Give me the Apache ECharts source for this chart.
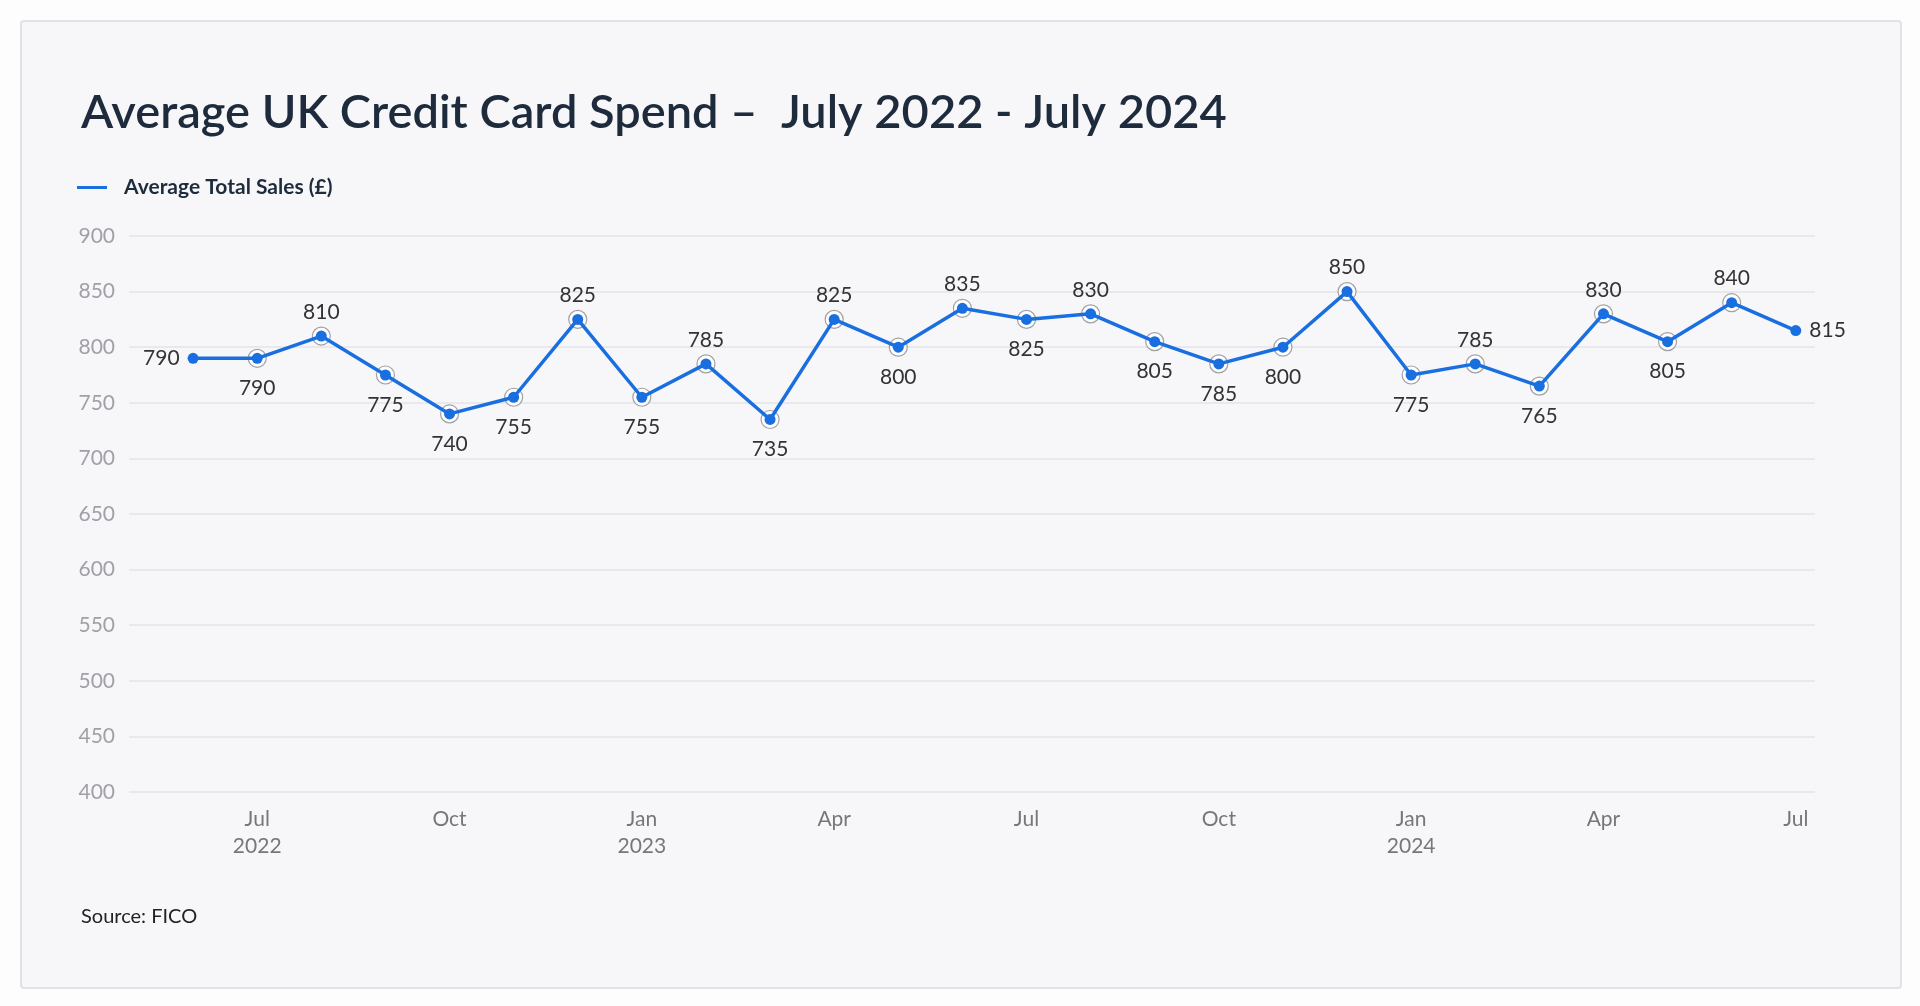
<!DOCTYPE html>
<html>
<head>
<meta charset="utf-8">
<script src="https://cdn.jsdelivr.net/npm/echarts@6/dist/echarts.min.js"></script>
<style>
html, body { margin: 0; padding: 0; background: #fdfdfd; }
#card { position: absolute; left: 20px; top: 20px; width: 1878px; height: 965px;
  border: 2px solid #e2e2e6; border-radius: 4px; background: #f7f7f9; }
#main { position: absolute; left: 0; top: 0; width: 1920px; height: 1006px; }
</style>
</head>
<body>
<div id="card"></div>
<div id="main"></div>
<script>
// months Jun 2022 .. Jul 2024
var months = ['Jun 2022','Jul 2022','Aug 2022','Sep 2022','Oct 2022','Nov 2022','Dec 2022',
  'Jan 2023','Feb 2023','Mar 2023','Apr 2023','May 2023','Jun 2023','Jul 2023','Aug 2023',
  'Sep 2023','Oct 2023','Nov 2023','Dec 2023','Jan 2024','Feb 2024','Mar 2024','Apr 2024',
  'May 2024','Jun 2024','Jul 2024'];
var sales = [790, 790, 810, 775, 740, 755, 825, 755, 785, 735, 825, 800, 835, 825, 830,
  805, 785, 800, 850, 775, 785, 765, 830, 805, 840, 815];
var tickLabels = { 1: 'Jul\n2022', 4: 'Oct', 7: 'Jan\n2023', 10: 'Apr', 13: 'Jul', 16: 'Oct',
  19: 'Jan\n2024', 22: 'Apr', 25: 'Jul' };
var yTicks = [400, 450, 500, 550, 600, 650, 700, 750, 800, 850, 900];

var labelPos = ['left','bottom','top','bottom','bottom','bottom','top','bottom','top','bottom',
  'top','bottom','top','bottom','top','bottom','bottom','bottom','top','bottom','top','bottom',
  'top','bottom','top','right'];

var font = 'Lato, "Noto Sans", sans-serif';
var blue = '#1a6fe0';

var lineData = sales.map(function (v, i) {
    return {
        value: [i, v],
        label: { position: labelPos[i], distance: labelPos[i] === 'bottom' ? 14 : 8 }
    };
});
var ringData = sales.map(function (v, i) { return [i, v]; }).slice(1, sales.length - 1);

var option = {
    animation: false,
    textStyle: { fontFamily: font },
    title: [{
        text: 'Average UK Credit Card Spend –  July 2022 - July 2024',
        left: 76, top: 84,
        textStyle: { fontSize: 47, fontWeight: 600, color: '#1e2b3c', fontFamily: font }
    }, {
        text: 'Source: FICO',
        left: 76, top: 902,
        textStyle: { fontSize: 20, fontWeight: 'normal', color: '#222', fontFamily: font }
    }],
    legend: {
        left: 72, top: 172,
        icon: 'rect', itemWidth: 30, itemHeight: 3, itemGap: 10,
        data: ['Average Total Sales (£)'],
        textStyle: { fontSize: 21, fontWeight: 'bold', color: '#1e2b3c', padding: [0, 0, 0, 12] }
    },
    grid: { left: 129, right: 105, top: 236, bottom: 214 },
    xAxis: {
        type: 'value', min: -1, max: 25.3, interval: 1,
        splitLine: { show: false },
        axisLine: { show: false }, axisTick: { show: false },
        axisLabel: {
            showMaxLabel: false, showMinLabel: false, margin: 14,
            color: '#777', fontSize: 21, lineHeight: 27,
            formatter: function (v) { return tickLabels[v] || ''; }
        }
    },
    yAxis: {
        type: 'value', min: yTicks[0], max: yTicks[yTicks.length - 1], interval: 50,
        axisLine: { show: false }, axisTick: { show: false },
        axisLabel: { color: '#a0a0a8', fontSize: 21, margin: 14 },
        splitLine: { lineStyle: { color: '#e3e3e8', width: 1.5 } }
    },
    series: [{
        name: 'ring',
        type: 'scatter',
        data: ringData,
        symbolSize: 18,
        z: 1,
        itemStyle: { color: '#fff', borderColor: '#8a8a90', borderWidth: 1.2 },
        silent: true
    }, {
        name: 'Average Total Sales (£)',
        type: 'line',
        data: lineData,
        z: 3,
        symbol: 'circle', symbolSize: 11,
        lineStyle: { color: blue, width: 3.5 },
        itemStyle: { color: blue },
        label: { show: true, color: '#333', fontSize: 21,
            formatter: function (p) { return p.value[1]; } }
    }],
    color: [blue]
};
var myChart = echarts.init(document.getElementById('main'));
myChart.setOption(option);
</script>
</body>
</html>
